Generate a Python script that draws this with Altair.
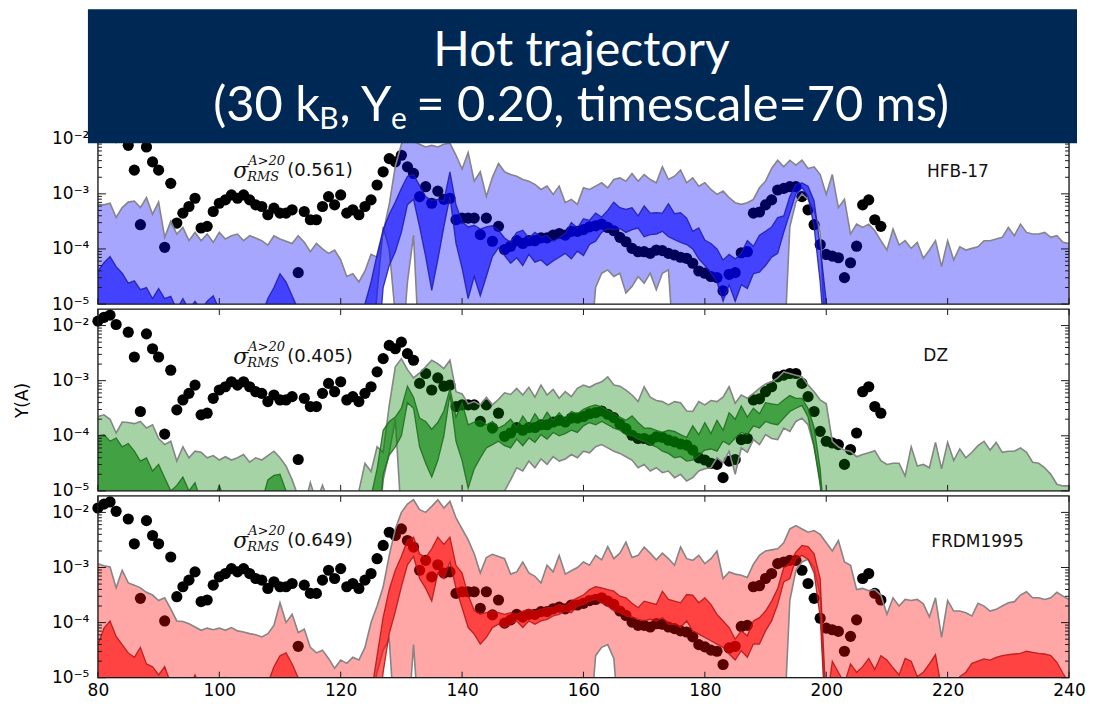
import altair as alt
import pandas as pd

A_VALUES = list(range(80, 241))

# ---- HFB-17 (log10 of Y) ----
HFB_OUTER_HI = [
    -3.19, -3.20, -3.17, -3.43, -3.25, -3.15, -3.13, -3.25, -3.07, -3.37,
    -3.15, -3.79, -3.50, -3.73, -3.61, -3.85, -3.70, -3.85, -3.73, -3.88,
    -3.70, -3.82, -3.76, -3.73, -3.85, -3.76, -3.80, -3.85, -3.93, -3.76,
    -3.82, -3.86, -3.90, -3.76, -3.88, -4.05, -3.90, -4.00, -4.08, -4.02,
    -4.20, -4.50, -4.45, -4.60, -4.40, -4.10, -4.15, -3.70, -3.19, -2.50,
    -2.10, -1.95, -2.05, -2.10, -2.15, -2.12, -2.15, -2.10, -2.08, -2.30,
    -2.55, -2.25, -2.77, -2.60, -3.05, -2.70, -2.45, -2.60, -2.65, -2.68,
    -2.74, -2.77, -2.83, -2.92, -2.86, -3.01, -2.86, -3.16, -3.10, -3.19,
    -2.89, -2.92, -2.86, -2.80, -2.89, -2.74, -2.71, -2.77, -2.63, -2.77,
    -2.65, -2.74, -2.80, -2.51, -2.74, -2.68, -2.57, -2.80, -2.71, -2.86,
    -2.80, -2.92, -3.01, -2.95, -3.07, -3.16, -3.19, -3.16, -3.10, -2.89,
    -2.77, -2.54, -2.39, -2.51, -2.39, -2.48, -2.39, -2.54, -2.51, -2.65,
    -3.01, -2.65, -3.25, -3.10, -3.73, -3.55, -3.61, -3.55, -3.67, -3.85,
    -4.02, -3.64, -3.93, -3.85, -3.99, -3.88, -4.17, -4.02, -3.85, -4.32,
    -3.85, -4.20, -3.96, -4.02, -3.99, -3.96, -3.85, -3.85, -3.82, -3.79,
    -3.61, -3.76, -3.55, -3.70, -3.73, -3.73, -3.70, -3.79, -3.76, -3.88, -3.90]
HFB_OUTER_LO = ([-6] * 46
    + [-4.8, -3.6, -4.0, -5.2, -6, -4.6, -3.75, -6]
    + [-6] * 28
    + [-4.7, -4.44, -4.38, -4.5, -4.44, -4.8, -4.68, -4.5, -4.62, -4.44, -4.74, -4.44, -4.38]
    + [-6] * 19
    + [-3.6, -3.15, -3.0, -3.1, -3.3, -3.7]
    + [-6] * 41)
HFB_INNER_HI = [
    -4.40, -4.25, -4.14, -4.32, -4.44, -4.62, -4.58, -4.74, -4.70, -4.90,
    -4.72, -4.90, -4.86, -5.10, -4.90, -5.10, -4.95, -5.10, -4.95, -4.85,
    -5.10, -5.20, -5.20, -5.20, -5.20, -5.20, -5.20, -5.20, -4.90, -4.70,
    -4.45, -4.60, -4.85, -5.10, -5.30, -5.30, -5.30, -5.30, -5.30, -5.30,
    -5.30, -5.30, -5.30, -5.20, -5.00, -4.60, -4.10, -3.65, -3.37, -3.15,
    -2.90, -2.68, -2.65, -2.85, -3.05, -3.12, -3.10, -3.13, -2.60, -3.20,
    -3.50, -3.60, -3.57, -3.64, -3.60, -3.58, -3.66, -3.80, -3.88, -3.70,
    -3.66, -3.80, -3.70, -3.78, -3.76, -3.86, -3.80, -3.72, -3.52, -3.62,
    -3.45, -3.48, -3.35, -3.42, -3.30, -3.15, -3.25, -3.28, -3.25, -3.40,
    -3.22, -3.35, -3.34, -3.35, -3.18, -3.36, -3.34, -3.44, -3.68, -3.62,
    -3.84, -3.90, -4.00, -4.20, -4.10, -4.18, -4.08, -3.85, -3.95, -3.75,
    -3.68, -3.60, -3.43, -3.40, -3.05, -2.83, -2.80, -2.86, -3.13, -3.95,
    -4.95] + [-6] * 40
HFB_INNER_LO = [-6] * 47 + [-4.7, -4.3, -4.05] + [
    -3.70, -3.20, -3.10, -3.60, -4.14, -4.75, -4.20, -3.60, -3.05, -3.90,
    -4.35, -4.90, -4.50, -4.85, -4.50, -4.14, -3.98, -4.12, -4.26, -4.16,
    -4.30, -4.10, -4.24, -4.20, -4.30, -4.22, -4.15, -4.08, -4.18, -4.04,
    -4.12, -3.92, -3.86, -3.70, -3.63, -3.65, -3.63, -3.70, -3.65, -3.62,
    -3.78, -3.74, -3.73, -3.68, -3.78, -3.83, -3.88, -3.92, -4.00, -4.18,
    -4.30, -4.44, -4.60, -4.95, -4.65, -4.95, -4.65, -4.72, -4.45, -4.42,
    -4.30, -4.15, -4.08, -3.70, -3.35, -3.00, -2.88, -3.05, -3.60, -4.60] + [-6] * 41

# ---- DZ ----
DZ_OUTER_HI = [
    -3.65, -3.62, -3.70, -3.95, -3.75, -3.76, -3.78, -3.74, -3.86, -3.80,
    -4.05, -4.16, -4.10, -4.46, -4.20, -4.40, -4.28, -4.30, -4.40, -4.36,
    -4.44, -4.38, -4.44, -4.40, -4.34, -4.48, -4.40, -4.44, -4.36, -4.28,
    -4.40, -4.55, -4.80, -5.10, -5.30, -4.85, -5.20, -4.90, -5.20, -5.10,
    -5.30, -5.10, -5.20, -5.00, -4.50, -4.65, -4.20, -4.30, -3.45, -2.75,
    -2.60, -2.80, -2.95, -2.86, -2.75, -2.63, -2.69, -2.78, -2.63, -3.20,
    -3.24, -3.42, -3.38, -3.44, -3.30, -3.44, -3.34, -3.22, -3.25, -3.14,
    -3.26, -3.12, -3.30, -3.08, -3.26, -3.16, -3.32, -3.20, -3.29, -3.14,
    -3.08, -3.12, -3.06, -3.02, -2.93, -3.08, -3.10, -3.17, -3.26, -3.38,
    -3.11, -3.30, -3.36, -3.38, -3.44, -3.38, -3.40, -3.55, -3.56, -3.38,
    -3.44, -3.36, -3.38, -3.30, -3.11, -3.41, -3.26, -3.32, -3.23, -3.14,
    -3.06, -3.02, -2.95, -2.84, -2.87, -2.90, -2.93, -3.08, -3.20, -3.35,
    -3.42, -4.10, -4.20, -4.26, -4.28, -4.38, -4.34, -4.31, -4.27, -4.45,
    -4.52, -4.50, -4.50, -4.73, -4.20, -4.55, -4.52, -4.58, -4.12, -4.60,
    -4.12, -4.45, -4.24, -4.40, -4.30, -4.18, -4.10, -4.26, -4.12, -4.30,
    -4.28, -4.28, -4.22, -4.30, -4.48, -4.50, -4.58, -4.70, -4.88, -4.91, -4.91]
DZ_OUTER_LO = ([-6] * 47 + [-4.8, -4.3, -3.7, -5.5] + [-6] * 16 + [-5.0, -4.8, -4.58] + [
    -4.64, -4.46, -4.58, -4.42, -4.52, -4.38, -4.46, -4.42, -4.34, -4.40,
    -4.28, -4.31, -4.20, -4.16, -4.22, -4.28, -4.32, -4.38, -4.44, -4.58,
    -4.52, -4.64, -4.58, -4.67, -4.64, -4.76, -4.70, -4.82, -4.76, -4.64,
    -4.60, -4.58, -4.40, -4.49, -4.28, -4.70, -4.22, -4.30, -4.07, -4.16,
    -3.98, -4.05, -4.07, -3.86, -3.92, -3.74, -3.68, -3.80, -4.20, -4.80] + [-6] * 41)
DZ_INNER_HI = [
    -4.00, -3.98, -4.10, -4.04, -4.20, -4.14, -4.28, -4.46, -4.40, -4.64,
    -4.52, -4.76, -5.00, -4.90, -4.75, -5.00, -4.85, -5.20, -5.20, -5.20,
    -4.90, -5.20, -5.20, -5.20, -5.20, -5.20, -5.20, -5.20, -4.80, -4.72,
    -4.70, -5.00, -5.30, -5.30, -5.30, -5.30, -5.30, -5.30, -5.30, -5.30,
    -5.30, -5.30, -5.30, -5.30, -5.30, -5.10, -4.60, -3.90, -3.74, -3.66,
    -3.50, -3.10, -3.30, -3.68, -3.74, -3.88, -3.76, -3.55, -3.15, -3.66,
    -3.40, -3.80, -3.75, -3.72, -3.80, -3.74, -3.86, -3.80, -3.70, -3.85,
    -3.64, -3.80, -3.60, -3.76, -3.57, -3.72, -3.58, -3.70, -3.56, -3.60,
    -3.52, -3.47, -3.44, -3.48, -3.54, -3.60, -3.66, -3.72, -3.64, -3.76,
    -3.86, -3.86, -3.90, -3.94, -3.90, -3.92, -3.98, -4.03, -3.82, -3.98,
    -3.76, -3.96, -3.72, -3.90, -3.58, -3.70, -3.46, -3.66, -3.50, -3.60,
    -3.40, -3.42, -3.44, -3.35, -3.27, -3.32, -3.32, -3.50, -3.85, -4.60] + [-6] * 41
DZ_INNER_LO = [-6] * 47 + [-4.7, -4.35, -4.2] + [
    -4.00, -3.40, -3.50, -4.20, -4.50, -4.75, -4.45, -4.00, -3.25, -4.10,
    -4.45, -4.95, -4.60, -4.40, -4.22, -4.16, -4.10, -4.18, -4.22, -4.06,
    -4.18, -4.04, -4.12, -3.98, -4.06, -3.94, -4.00, -3.96, -3.90, -3.94,
    -3.82, -3.76, -3.80, -3.74, -3.80, -3.86, -3.90, -3.98, -4.00, -4.06,
    -4.10, -4.16, -4.20, -4.28, -4.32, -4.40, -4.38, -4.46, -4.44, -4.36,
    -4.26, -4.24, -4.28, -4.10, -4.16, -4.04, -3.94, -3.98, -3.82, -3.86,
    -3.74, -3.78, -3.80, -3.68, -3.56, -3.50, -3.45, -3.66, -4.20, -4.90] + [-6] * 41

# ---- FRDM1995 ----
FRDM_OUTER_HI = [
    -2.93, -2.97, -2.99, -3.37, -3.05, -3.28, -3.32, -3.37, -3.45, -3.50,
    -3.60, -3.55, -3.75, -3.97, -3.98, -4.02, -4.08, -4.14, -4.10, -4.13,
    -4.10, -4.14, -4.09, -4.15, -4.17, -4.20, -4.22, -4.26, -4.20, -4.05,
    -3.64, -4.00, -3.85, -4.18, -4.12, -4.45, -4.55, -4.50, -4.65, -4.83,
    -4.68, -4.74, -4.63, -4.68, -4.45, -4.00, -3.70, -3.35, -2.78, -2.30,
    -2.00, -1.85, -1.77, -1.95, -2.00, -1.89, -1.77, -1.92, -1.80, -2.10,
    -2.30, -2.50, -2.75, -3.10, -2.82, -2.76, -2.80, -2.84, -3.12, -3.08,
    -2.90, -3.10, -3.16, -3.28, -2.96, -3.08, -2.78, -3.12, -3.06, -3.00,
    -2.90, -2.96, -2.78, -2.86, -2.62, -2.84, -2.74, -2.54, -2.82, -2.78,
    -2.63, -2.74, -2.86, -2.74, -2.84, -2.96, -2.63, -2.84, -2.87, -2.78,
    -2.93, -2.84, -2.70, -3.20, -3.08, -3.12, -3.14, -3.18, -2.94, -2.78,
    -2.70, -2.68, -2.66, -2.55, -2.30, -2.24, -2.30, -2.36, -2.33, -2.40,
    -2.55, -2.70, -2.51, -2.90, -2.96, -3.40, -3.38, -3.42, -3.40, -3.50,
    -3.85, -3.55, -3.70, -3.58, -3.60, -3.58, -3.66, -3.90, -3.55, -4.27,
    -3.60, -3.79, -3.79, -3.82, -3.88, -3.65, -3.70, -3.79, -3.76, -3.70,
    -3.64, -3.62, -3.50, -3.44, -3.55, -3.55, -3.58, -3.55, -3.45, -3.52, -3.58]
FRDM_OUTER_LO = ([-6] * 44 + [-6, -5.4, -4.9, -4.5, -4.3] + [-6, -6, -6] + [-4.4]
    + [-6] * 29 + [-4.6, -4.45, -4.4, -4.65] + [-6] * 28
    + [-3.6, -3.05, -2.9, -2.85, -3.0, -3.5] + [-6] * 41)
FRDM_INNER_HI = [
    -4.40, -4.10, -3.97, -4.25, -4.40, -4.55, -4.63, -4.45, -4.75, -4.80,
    -4.95, -4.80, -5.10, -5.00, -5.20, -5.20, -4.95, -5.20, -5.20, -5.20,
    -5.20, -5.00, -5.20, -5.20, -5.20, -5.20, -5.20, -5.20, -5.10, -4.80,
    -4.60, -4.55, -4.75, -5.00, -5.30, -5.30, -5.30, -5.30, -5.30, -5.30,
    -5.30, -5.30, -5.30, -5.30, -5.30, -5.30, -4.60, -3.90, -3.40, -3.05,
    -2.80, -2.50, -2.45, -2.75, -2.82, -2.66, -2.45, -2.58, -2.45, -2.96,
    -3.10, -3.50, -3.78, -3.85, -3.82, -3.79, -3.82, -3.85, -3.82, -3.85,
    -3.79, -3.76, -3.79, -3.76, -3.73, -3.73, -3.67, -3.70, -3.61, -3.55,
    -3.50, -3.40, -3.35, -3.37, -3.40, -3.43, -3.52, -3.55, -3.65, -3.73,
    -3.61, -3.64, -3.67, -3.43, -3.58, -3.61, -3.64, -3.49, -3.50, -3.64,
    -3.55, -3.67, -3.85, -3.97, -4.09, -4.30, -4.15, -4.24, -3.97, -3.91,
    -3.79, -3.61, -3.38, -3.00, -2.92, -2.72, -2.60, -2.62, -2.75, -3.20,
    -5.50, -4.70, -4.90, -5.10, -4.75, -4.90, -4.80, -4.65, -4.85, -4.60,
    -4.68, -4.82, -4.95, -4.65, -4.70, -4.98, -4.90, -4.75, -4.58, -5.20,
    -5.30, -5.30, -4.98, -4.90, -4.74, -4.70, -4.66, -4.68, -4.63, -4.60,
    -4.58, -4.57, -4.56, -4.52, -4.54, -4.56, -4.57, -4.60, -4.72, -4.92, -5.10]
FRDM_INNER_LO = [-6] * 47 + [-4.9, -4.2, -3.8] + [
    -3.35, -2.95, -2.80, -3.20, -3.38, -3.61, -3.10, -3.20, -2.90, -3.38,
    -3.73, -4.09, -4.21, -4.39, -4.27, -4.09, -4.03, -4.09, -4.03, -3.97,
    -4.09, -3.97, -4.03, -3.97, -3.94, -3.88, -3.85, -3.79, -3.82, -3.70,
    -3.67, -3.61, -3.58, -3.64, -3.70, -3.79, -3.82, -3.88, -3.91, -3.94,
    -3.97, -3.94, -3.97, -3.91, -4.03, -4.03, -4.09, -3.97, -4.15, -4.21,
    -4.27, -4.33, -4.39, -4.45, -4.57, -4.68, -4.51, -4.63, -4.39, -4.39,
    -4.15, -3.97, -3.67, -3.26, -3.20, -2.84, -2.78, -2.85, -3.10, -3.90] + [-6] * 41

# ---- solar r-process abundances (black dots), log10 Y ----
DOT_A = [80, 81, 82, 83, 85, 86, 87, 88, 89, 90, 91, 92, 93, 94, 95, 96, 97, 98, 99,
         100, 101, 102, 103, 104, 105, 106, 107, 108, 109, 110, 111, 112, 113, 114,
         115, 116, 117, 118, 119, 120, 121, 122, 123, 124, 125, 126, 127, 128, 129,
         130, 131, 132, 133, 134, 135, 136, 137, 138, 139, 140, 141, 142, 143, 144,
         145, 146, 147, 148, 149, 150, 151, 152, 153, 154, 155, 156, 157, 158, 159,
         160, 161, 162, 163, 164, 165, 166, 167, 168, 169, 170, 171, 172, 173, 174,
         175, 176, 177, 178, 179, 180, 181, 182, 183, 184, 185, 186, 187, 188, 189,
         190, 191, 192, 193, 194, 195, 196, 197, 198, 199, 200, 201, 202, 203, 204,
         205, 206, 207, 208, 209]
DOT_LOG = [-1.92, -1.85, -1.81, -1.98, -2.12, -2.57, -3.56, -2.15, -2.42, -2.57, -3.97,
           -2.81, -3.53, -3.35, -3.23, -3.08, -3.62, -3.59, -3.32,
           -3.17, -3.11, -3.02, -3.08, -3.02, -3.11, -3.20, -3.23, -3.38, -3.26, -3.35,
           -3.35, -3.29, -4.43, -3.32,
           -3.47, -3.47, -3.23, -3.05, -3.20, -3.02, -3.35, -3.29, -3.38, -3.23, -3.11,
           -2.84, -2.60, -2.36, -2.42,
           -2.30, -2.51, -2.63, -3.05, -2.87, -3.17, -2.95, -3.10, -3.08, -3.47, -3.44,
           -3.44, -3.44, -3.74, -3.44,
           -3.86, -3.59, -4.01, -3.95, -3.85, -3.90, -3.85, -3.85, -3.80, -3.80, -3.75,
           -3.72, -3.75, -3.68, -3.68,
           -3.65, -3.60, -3.58, -3.55, -3.61, -3.67, -3.79, -3.87, -3.99, -4.05, -4.05,
           -4.08, -4.02, -4.03, -4.08,
           -4.11, -4.15, -4.17, -4.26, -4.40, -4.44, -4.50, -4.52, -4.76, -4.46, -4.43,
           -4.07, -4.05, -3.35, -3.33,
           -3.20, -3.11, -2.93, -2.90, -2.87, -2.87, -3.05, -3.29, -3.56, -3.92, -4.10,
           -4.13, -4.16, -4.52, -4.25,
           -3.95, -3.20, -3.11, -3.47, -3.59]

X_TICKS = [80, 100, 120, 140, 160, 180, 200, 220, 240]
Y_MAJOR = [1e-5, 1e-4, 1e-3, 1e-2]
Y_MINOR = [2e-5, 3e-5, 4e-5, 5e-5, 6e-5, 7e-5, 8e-5, 9e-5,
           2e-4, 3e-4, 4e-4, 5e-4, 6e-4, 7e-4, 8e-4, 9e-4,
           2e-3, 3e-3, 4e-3, 5e-3, 6e-3, 7e-3, 8e-3, 9e-3]

for lst in [HFB_OUTER_HI, HFB_OUTER_LO, HFB_INNER_HI, HFB_INNER_LO,
            DZ_OUTER_HI, DZ_OUTER_LO, DZ_INNER_HI, DZ_INNER_LO,
            FRDM_OUTER_HI, FRDM_OUTER_LO, FRDM_INNER_HI, FRDM_INNER_LO]:
    assert len(lst) == len(A_VALUES), len(lst)
assert len(DOT_A) == len(DOT_LOG)

W, H = 972, 182
Y_TOP = 0.01995
XS = alt.Scale(domain=[80, 240], nice=False, zero=False)
YS = alt.Scale(type="log", domain=[1e-5, Y_TOP], nice=False)
FONT = "DejaVu Sans"
LABEL_EXPR = ("datum.value < 0.00005 ? '10\u207b\u2075' : datum.value < 0.0005 ? '10\u207b\u2074' : "
              "datum.value < 0.005 ? '10\u207b\u00b3' : '10\u207b\u00b2'")


def band_frame(ohi, olo, ihi, ilo):
    return pd.DataFrame({
        "A": A_VALUES,
        "ohi": [10 ** v for v in ohi], "olo": [10 ** v for v in olo],
        "ihi": [10 ** v for v in ihi], "ilo": [10 ** v for v in ilo],
    })


dots_df = pd.DataFrame({"A": DOT_A, "Y": [10 ** v for v in DOT_LOG]})


def one(**kw):
    return pd.DataFrame({k: [v] for k, v in kw.items()})


def make_panel(df, fill, edge, name, sigma, name_pos, sig_pos, show_x, y_title, extra=None):
    if show_x:
        xaxis = alt.Axis(values=X_TICKS, labelFontSize=17, labelFont=FONT, labelColor="black",
                         ticks=False, tickSize=0, domain=False, grid=False, labelPadding=5,
                         title=None, labelFlush=False, labelOverlap=False)
    else:
        xaxis = None
    yaxis = alt.Axis(values=Y_MAJOR, labelExpr=LABEL_EXPR, labelFontSize=17, labelFont=FONT,
                     labelColor="black", ticks=False, tickSize=0, domain=False, grid=False,
                     labelPadding=9, labelFlush=False, labelOverlap=False,
                     title=y_title, titleFontSize=17, titleFont=FONT, titleFontWeight="normal",
                     titleColor="black", titlePadding=20)

    def X(field):
        return alt.X(field, type="quantitative", scale=XS, axis=xaxis)

    def Y(field):
        return alt.Y(field, type="quantitative", scale=YS, axis=yaxis)

    dots = alt.Chart(dots_df).mark_circle(size=125, color="black", opacity=1).encode(
        x=X("A"), y=Y("Y"))
    base = alt.Chart(df)
    outer = base.mark_area(color=fill, opacity=0.35, clip=True).encode(
        x=X("A"), y=Y("ohi"), y2="olo")
    outer_hi = base.mark_line(color="#858585", strokeWidth=1.6, clip=True).encode(x=X("A"), y=Y("ohi"))
    outer_lo = base.mark_line(color="#858585", strokeWidth=1.6, clip=True).encode(x=X("A"), y=Y("olo"))
    inner = base.mark_area(color=fill, opacity=0.6, clip=True).encode(
        x=X("A"), y=Y("ihi"), y2="ilo")
    inner_hi = base.mark_line(color=edge, strokeWidth=1.3, opacity=0.85, clip=True).encode(x=X("A"), y=Y("ihi"))
    inner_lo = base.mark_line(color=edge, strokeWidth=1.3, opacity=0.85, clip=True).encode(x=X("A"), y=Y("ilo"))

    frame = alt.Chart(one(k=0)).mark_rect(filled=False, stroke="#1a1a1a", strokeWidth=1.3).encode(
        x=alt.value(0), x2=alt.value(W), y=alt.value(0), y2=alt.value(H))
    xt = alt.Chart(pd.DataFrame({"A": X_TICKS}))
    xt_top = xt.mark_rule(color="#1a1a1a", strokeWidth=1).encode(x=X("A"), y=alt.value(0), y2=alt.value(6))
    xt_bot = xt.mark_rule(color="#1a1a1a", strokeWidth=1).encode(x=X("A"), y=alt.value(H), y2=alt.value(H - 6))
    ymj = alt.Chart(pd.DataFrame({"Y": Y_MAJOR}))
    ymn = alt.Chart(pd.DataFrame({"Y": Y_MINOR}))
    ymj_l = ymj.mark_rule(color="#1a1a1a", strokeWidth=1).encode(y=Y("Y"), x=alt.value(0), x2=alt.value(8))
    ymj_r = ymj.mark_rule(color="#1a1a1a", strokeWidth=1).encode(y=Y("Y"), x=alt.value(W), x2=alt.value(W - 8))
    ymn_l = ymn.mark_rule(color="#1a1a1a", strokeWidth=1).encode(y=Y("Y"), x=alt.value(0), x2=alt.value(4))
    ymn_r = ymn.mark_rule(color="#1a1a1a", strokeWidth=1).encode(y=Y("Y"), x=alt.value(W), x2=alt.value(W - 4))

    name_t = alt.Chart(one(A=name_pos[0], Y=name_pos[1], t=name)).mark_text(
        font=FONT, fontSize=17, color="#111111", align="left", baseline="alphabetic").encode(
        x=X("A"), y=Y("Y"), text="t:N")
    sd = alt.Chart(one(A=sig_pos[0], Y=sig_pos[1]))
    sig = sd.mark_text(text="\u03c3", font="DejaVu Serif", fontStyle="italic", fontSize=22,
                       color="#111111", align="left", baseline="alphabetic").encode(x=X("A"), y=Y("Y"))
    sup = sd.mark_text(text="A>20", font="DejaVu Serif", fontStyle="italic", fontSize=13,
                       color="#111111", align="left", baseline="alphabetic", dx=15, dy=-13).encode(
        x=X("A"), y=Y("Y"))
    sub = sd.mark_text(text="RMS", font="DejaVu Serif", fontStyle="italic", fontSize=13,
                       color="#111111", align="left", baseline="alphabetic", dx=14, dy=3).encode(
        x=X("A"), y=Y("Y"))
    val = sd.mark_text(text=sigma, font=FONT, fontSize=18, color="#111111", align="left",
                       baseline="alphabetic", dx=54, dy=-2).encode(x=X("A"), y=Y("Y"))

    layers = [dots, outer, outer_hi, outer_lo, inner, inner_hi, inner_lo, frame,
              xt_top, xt_bot, ymj_l, ymj_r, ymn_l, ymn_r, name_t, sig, sup, sub, val]
    if extra:
        layers += extra(X, Y)
    return alt.layer(*layers).properties(width=W, height=H)


# ---- title box (drawn over the top of the first panel) ----
F1 = 48
F2 = 48.8
SF = 30
LATO = {" ": 0.193, "(": 0.298, ")": 0.298, "0": 0.58, "2": 0.58, "3": 0.58, "7": 0.58,
        "k": 0.505, "B": 0.638, ",": 0.225, "Y": 0.62, "e": 0.525, "=": 0.58, ".": 0.225,
        "t": 0.352, "i": 0.232, "m": 0.82, "s": 0.415, "c": 0.47, "a": 0.505, "l": 0.232}


def tw(s, size):
    return sum(LATO.get(ch, 0.55) for ch in s) * size


CX1 = 484
CX2 = 478
BOX_TOP = -113


def title_layers(X, Y):
    pieces = [("(30 k", F2, 0), ("B", SF, 8), (", Y", F2, 0), ("e", SF, 8),
              ("= 0.20, timescale=70 ms)", F2, 0)]
    gaps = [0, 1, 1, 1, tw(" ", F2)]
    total = sum(tw(p[0], p[1]) for p in pieces) + sum(gaps)
    xpos = CX2 - total / 2
    out = [alt.Chart(one(k=0)).mark_rect(color="#002855").encode(
        x=alt.value(-10), x2=alt.value(980), y=alt.value(BOX_TOP), y2=alt.value(21))]
    out.append(alt.Chart(one(k=0)).mark_text(
        text="Hot trajectory", font="Lato", fontSize=F1, color="white", align="center",
        baseline="alphabetic").encode(x=alt.value(CX1), y=alt.value(BOX_TOP + 57)))
    for (txt, size, drop), gap in zip(pieces, gaps):
        xpos += gap
        out.append(alt.Chart(one(k=0)).mark_text(
            text=txt, font="Lato", fontSize=size, color="white", align="left",
            baseline="alphabetic").encode(x=alt.value(xpos), y=alt.value(BOX_TOP + 112 + drop)))
        xpos += tw(txt, size)
    return out


p1 = make_panel(band_frame(HFB_OUTER_HI, HFB_OUTER_LO, HFB_INNER_HI, HFB_INNER_LO),
                "#0000ff", "#1c1ca8", "HFB-17", "(0.561)", (216.6, 10 ** -2.70),
                (102.3, 10 ** -2.716), False, None, extra=title_layers)
p2 = make_panel(band_frame(DZ_OUTER_HI, DZ_OUTER_LO, DZ_INNER_HI, DZ_INNER_LO),
                "#008000", "#1d6a1d", "DZ", "(0.405)", (216.0, 10 ** -2.65),
                (102.3, 10 ** -2.70), False, "Y(A)")
p3 = make_panel(band_frame(FRDM_OUTER_HI, FRDM_OUTER_LO, FRDM_INNER_HI, FRDM_INNER_LO),
                "#ff0000", "#b01414", "FRDM1995", "(0.649)", (217.3, 10 ** -2.635),
                (102.3, 10 ** -2.65), True, None)

chart = alt.vconcat(p1, p2, p3, spacing=5, bounds="flush").properties(
    padding={"left": 5, "top": 0, "right": 0, "bottom": 0}
).configure_view(strokeWidth=0).configure(background="white")

chart.save("out.html", embed_options={"renderer": "svg", "actions": False})
